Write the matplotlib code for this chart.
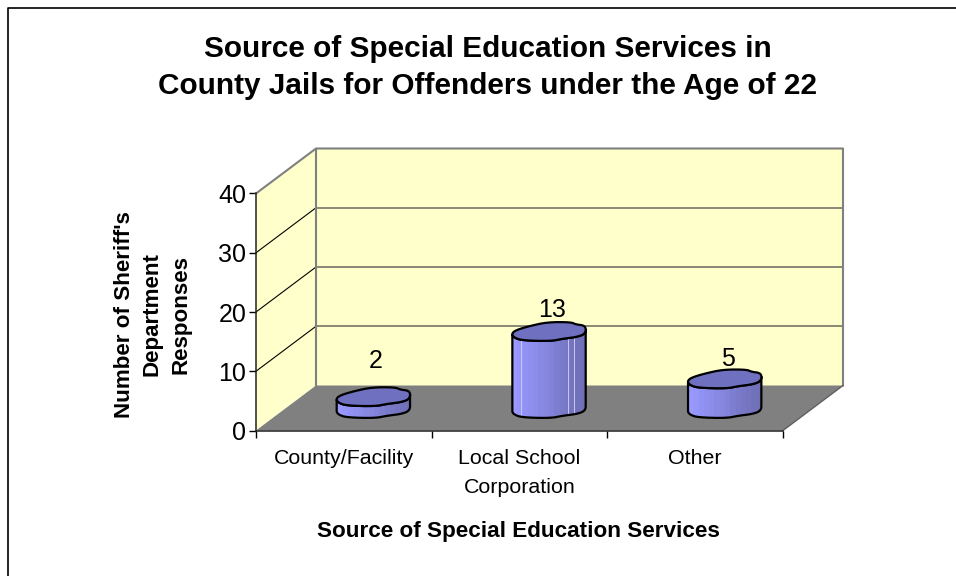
import numpy as np
import matplotlib
matplotlib.use('Agg')
import matplotlib.pyplot as plt
from matplotlib.lines import Line2D
from matplotlib.patches import Polygon

plt.rcParams['font.family'] = ['Liberation Sans', 'DejaVu Sans']

categories = ['County/Facility', 'Local School\nCorporation', 'Other']
responses = [2, 13, 5]
y_ticks = [0, 10, 20, 30, 40]

W, H = 956, 576
# front plane of the 3D box, in pixels
LEFT, RIGHT, BOTTOM, TOP = 256, 783, 430.5, 193.5
DEPTH_X, DEPTH_Y = 60, 45

fig = plt.figure(figsize=(W / 100, H / 100), dpi=100)
ax = fig.add_axes([LEFT / W, 1 - BOTTOM / H, (RIGHT - LEFT) / W, (BOTTOM - TOP) / H])
ax.set_xlim(0, len(categories))
ax.set_ylim(0, y_ticks[-1])

ux = (RIGHT - LEFT) / len(categories)
uy = (BOTTOM - TOP) / y_ticks[-1]
dx = DEPTH_X / ux
dy = DEPTH_Y / uy
xmax = len(categories)
ymax = y_ticks[-1]

GREY = '#808080'
WALL = '#FFFFCC'

# walls and floor
ax.add_patch(Polygon([(0, 0), (dx, dy), (dx, ymax + dy), (0, ymax)],
                     fc=WALL, ec='none', clip_on=False, zorder=1))
ax.add_patch(Polygon([(dx, dy), (xmax + dx, dy), (xmax + dx, ymax + dy), (dx, ymax + dy)],
                     fc=WALL, ec='none', clip_on=False, zorder=1))
ax.add_patch(Polygon([(0, 0), (xmax, 0), (xmax + dx, dy), (dx, dy)],
                     fc=GREY, ec='none', clip_on=False, zorder=1))

# gridlines run across the side wall and the back wall
for v in y_ticks[1:-1]:
    ax.plot([0, dx], [v, v + dy], color='black', lw=0.8, clip_on=False, zorder=2)
    ax.plot([dx, xmax + dx], [v + dy, v + dy], color='#7F7F70', lw=1.3, clip_on=False, zorder=2)
ax.plot([0, dx, xmax + dx, xmax + dx], [ymax, ymax + dy, ymax + dy, dy],
        color=GREY, lw=1.5, clip_on=False, zorder=2)
ax.plot([dx, dx], [dy, ymax + dy], color=GREY, lw=1.5, clip_on=False, zorder=2)
ax.plot([xmax, xmax + dx], [0, dy], color='#606060', lw=1, clip_on=False, zorder=2)

# wobbly cross-section of each column, offsets in pixels from its centre
blob_x = np.array([-37.3, -33, -19.7, -1.3, 22, 27, 35.3, 37.3, 35.3, 27, 13.7, 2, -26.3, -34.7])
blob_y = np.array([-2.3, 1.3, 5.3, 9.3, 9.3, 7, 6, 2, -3, -5.7, -7.3, -9.7, -9, -6.3])
# light seams on the tall column
seams = [-28, 19, 25]


def smooth(x, y, rounds=2):
    # corner cutting on a closed outline, keeps the shape soft
    for _ in range(rounds):
        x1, y1 = np.roll(x, -1), np.roll(y, -1)
        x = np.column_stack([0.75 * x + 0.25 * x1, 0.25 * x + 0.75 * x1]).ravel()
        y = np.column_stack([0.75 * y + 0.25 * y1, 0.25 * y + 0.75 * y1]).ravel()
    return x, y


sx, sy = smooth(blob_x / ux, blob_y / uy)
left_i = int(np.argmin(sx))
right_i = int(np.argmax(sx))
# lower half of the outline, right extreme round to left extreme
idx = np.arange(right_i, left_i + 1) if left_i > right_i else np.r_[right_i:len(sx), 0:left_i + 1]

ramp = np.array([[0.60, 0.60, 1.0], [0.56, 0.56, 0.94], [0.52, 0.52, 0.86],
                 [0.47, 0.47, 0.78], [0.44, 0.44, 0.72]])
steps = np.linspace(0, len(ramp) - 1, 14)
bands = np.column_stack([np.interp(steps, np.arange(len(ramp)), ramp[:, i]) for i in range(3)])

# label nudges in pixels, the labels do not sit at a constant height above the columns
label_dx = [2, 3, 3]
label_dy = [14, 0, -1]

for i, val in enumerate(responses):
    cx = i + 0.5 + 0.49 * dx
    cy = 0.49 * dy
    low_x, low_y = cx + sx[idx], cy + sy[idx]
    up_x, up_y = cx + sx[idx][::-1], cy + val + sy[idx][::-1]
    side = Polygon(np.column_stack([np.r_[low_x, up_x], np.r_[low_y, up_y]]),
                   fc='none', ec='black', lw=1.6, clip_on=False, zorder=5)
    im = ax.imshow(bands[np.newaxis, :, :], extent=[cx + sx.min(), cx + sx.max(), 0, val + dy],
                   aspect='auto', interpolation='nearest', zorder=4)
    ax.add_patch(side)
    im.set_clip_path(side)
    if val > 10:
        for off in seams:
            seam, = ax.plot([cx + off / ux] * 2, [0, val + dy], color='#C8C8F0', lw=0.7, zorder=4.5)
            seam.set_clip_path(side)
    ax.add_patch(Polygon(np.column_stack([cx + sx, cy + val + sy]), fc='#7070C0', ec='black',
                         lw=1.6, clip_on=False, zorder=6))
    ax.annotate(str(val), (cx, cy + val + sy.max()), xytext=(label_dx[i], label_dy[i]),
                textcoords='offset pixels', ha='center', va='bottom', fontsize=18, zorder=7)

ax.set_xlim(0, xmax)
ax.set_ylim(0, ymax)

for s in ['top', 'right']:
    ax.spines[s].set_visible(False)
for s in ['left', 'bottom']:
    ax.spines[s].set_color('#202020')
    ax.spines[s].set_linewidth(1.1)
    ax.spines[s].set_zorder(3)
ax.patch.set_visible(False)

ax.set_yticks(y_ticks)
ax.tick_params(axis='y', labelsize=18, length=5, width=1, pad=2)
ax.set_xticks(np.arange(xmax + 1))
ax.set_xticklabels([])
ax.set_xticks(np.arange(xmax) + 0.5, minor=True)
ax.set_xticklabels(categories, minor=True, fontsize=15.4, linespacing=1.67)
ax.tick_params(axis='x', which='major', length=5, width=1)
ax.tick_params(axis='x', which='minor', length=0, pad=13)

fig.text(488 / W, 1 - 67.5 / H, 'Source of Special Education Services in\nCounty Jails for Offenders under the Age of 22',
         ha='center', va='center', fontsize=21.4, fontweight='bold', linespacing=1.45)
fig.text(152.5 / W, 1 - 314.5 / H, "Number of Sheriff's\nDepartment\nResponses", rotation=90,
         ha='center', va='center', fontsize=16.1, fontweight='bold', linespacing=1.45)
fig.text(518.5 / W, 1 - 532 / H, 'Source of Special Education Services',
         ha='center', va='center', fontsize=16.2, fontweight='bold')

# chart border, open on the right and at the bottom
fig.add_artist(Line2D([7.5 / W, 7.5 / W, 1], [0, 1 - 8 / H, 1 - 8 / H], transform=fig.transFigure,
                      color='black', lw=1.2))

plt.savefig('out.png', dpi=100)
